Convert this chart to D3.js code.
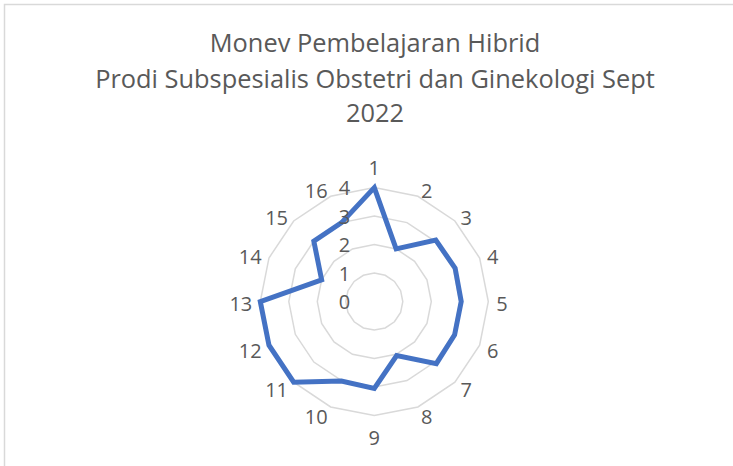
<!DOCTYPE html>
<html><head><meta charset="utf-8">
<script src="https://cdn.jsdelivr.net/npm/d3@7"></script>
<style>html,body{margin:0;padding:0;background:#fff;}svg{display:block;}</style>
</head><body>
<svg id="chart" width="733" height="466"></svg>
<script>
const titleLines = ["Monev Pembelajaran Hibrid", "Prodi Subspesialis Obstetri dan Ginekologi Sept", "2022"];
const categories = ["1","2","3","4","5","6","7","8","9","10","11","12","13","14","15","16"];
const values = [4, 2, 3.05, 3.07, 3.05, 3.05, 3.08, 2.05, 3.05, 3.02, 4, 4, 4, 2, 3, 3];
const tickValues = [0, 1, 2, 3, 4];

const W = 733, H = 466;
const cx = 374.3, cy = 301.6, R = 114;
const textColor = "#595959";
const font = "'Open Sans', sans-serif";
const svg = d3.select("#chart");

// chart area border
svg.append("path").attr("d", `M4.5,${H} L4.5,4.5 L${W},4.5`)
  .attr("fill", "none").attr("stroke", "#d9d9d9").attr("stroke-width", 1.5);

// title
const tl = svg.append("g");
const titleY = [52, 88, 122];
titleLines.forEach((t, i) => {
  tl.append("text").attr("x", 375).attr("y", titleY[i]).attr("text-anchor", "middle")
    .attr("fill", textColor).attr("font-family", font).attr("font-size", 23).text(t);
});
const t2 = tl.selectAll("text").nodes()[1];
const fs = 23 * 560 / t2.getComputedTextLength();
tl.selectAll("text").attr("font-size", fs);

const r = d3.scaleLinear().domain([0, 4]).range([0, R]);
const angle = d3.scaleBand().domain(categories).range([0, 2 * Math.PI]).align(0);
const ang = c => angle(c);
const pt = (c, v) => [cx + r(v) * Math.sin(ang(c)), cy - r(v) * Math.cos(ang(c))];

// grid rings
const g = svg.append("g");
tickValues.filter(v => v > 0).forEach(v => {
  g.append("path")
    .attr("d", d3.line()(categories.map(c => pt(c, v))) + "Z")
    .attr("fill", "none").attr("stroke", "#d9d9d9").attr("stroke-width", 1.5);
});

// data line
svg.append("path")
  .attr("d", d3.line()(categories.map((c, i) => pt(c, values[i]))) + "Z")
  .attr("fill", "none").attr("stroke", "#4472C4").attr("stroke-width", 5)
  .attr("stroke-linejoin", "miter");

// tick labels
tickValues.forEach(v => {
  svg.append("text").attr("x", cx - 24).attr("y", cy - r(v))
    .attr("text-anchor", "end").attr("dominant-baseline", "central")
    .attr("fill", textColor).attr("font-family", font).attr("font-size", 20).text(v);
});

// category labels
const off = 8;
categories.forEach(c => {
  const a = ang(c);
  const s = Math.sin(a), co = Math.cos(a);
  const ax = cx + (R + off) * s, ay = cy - (R + off) * co;
  const t = svg.append("text").attr("dominant-baseline", "central")
    .attr("fill", textColor).attr("font-family", font).attr("font-size", 20).text(c);
  if (Math.abs(s) < 1e-6) {
    t.attr("text-anchor", "middle").attr("x", ax).attr("y", co > 0 ? ay - 12 : ay + 14);
  } else {
    t.attr("text-anchor", s > 0 ? "start" : "end").attr("x", ax).attr("y", ay + 2);
  }
});
</script>
</body></html>
